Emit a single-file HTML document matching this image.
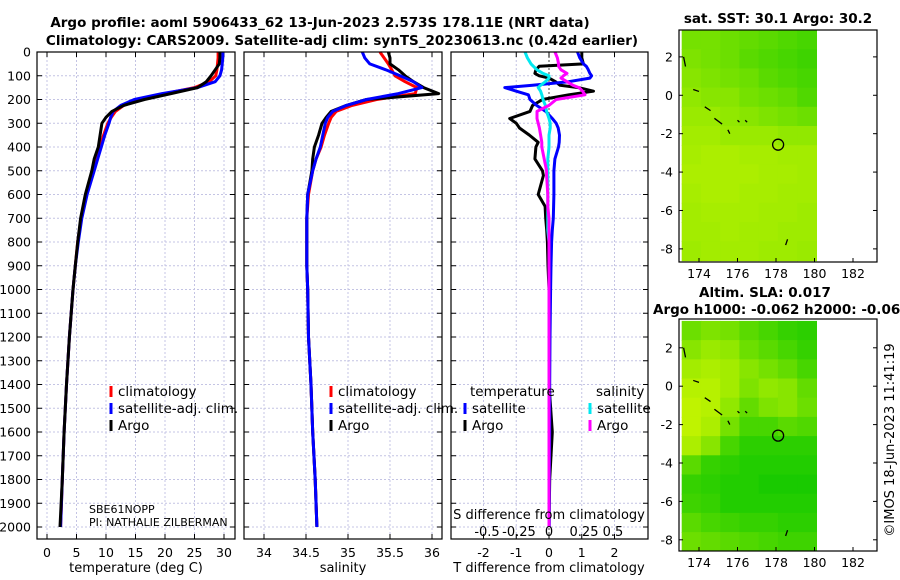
<!DOCTYPE html>
<html><head><meta charset="utf-8">
<style>
html,body{margin:0;padding:0;background:#fff;}
svg{display:block;font-family:"DejaVu Sans","Liberation Sans",sans-serif;}
</style></head>
<body>
<svg id="fig" width="900" height="580" viewBox="0 0 900 580" xmlns="http://www.w3.org/2000/svg">
<defs>
<clipPath id="clipTop"><rect x="679" y="30" width="198" height="232"/></clipPath>
<clipPath id="clipBot"><rect x="679" y="319" width="198" height="232"/></clipPath>
</defs>
<text x="320" y="27" font-size="13.5" font-weight="bold" text-anchor="middle">Argo profile: aoml 5906433_62 13-Jun-2023 2.573S 178.11E (NRT data)</text>
<text x="342" y="45" font-size="13.5" font-weight="bold" text-anchor="middle">Climatology: CARS2009. Satellite-adj clim: synTS_20230613.nc (0.42d earlier)</text>
<text x="778" y="23" font-size="13.5" font-weight="bold" text-anchor="middle">sat. SST: 30.1 Argo: 30.2</text>
<text x="765" y="297" font-size="13.5" font-weight="bold" text-anchor="middle">Altim. SLA: 0.017</text>
<text x="653" y="314" font-size="13.5" font-weight="bold">Argo h1000: -0.062 h2000: -0.064</text>
<text x="0" y="0" font-size="13" text-anchor="middle" transform="translate(894,440) rotate(-90)">©IMOS 18-Jun-2023 11:41:19</text>
<g id="layer"></g>
</svg>
<script>
// ---- profile data ----
const depths = [0,25,50,75,100,125,150,175,200,225,250,275,300,350,400,450,500,600,700,800,900,1000,1200,1400,1600,1800,2000];
const tempClim = [29.0,29.0,28.9,28.8,28.6,27.5,25,20,16,13,11.6,10.9,10.3,9.6,9.0,8.4,7.8,6.6,5.8,5.2,4.8,4.4,3.8,3.3,2.9,2.6,2.3];
const tempSat  = [29.8,29.8,29.7,29.6,29.3,28.5,25.5,19.5,14.8,12.5,11.2,10.8,10.5,9.8,9.2,8.6,8.0,6.8,5.9,5.3,4.8,4.4,3.8,3.3,2.9,2.6,2.3];
const tempArgo = [29.3,29.3,29.2,28.5,27.8,27.0,25.5,21,16.5,13,11,10,9.3,9.0,8.7,8.0,7.6,6.5,5.7,5.2,4.8,4.4,3.8,3.3,2.9,2.6,2.2];
const salClim = [35.38,35.43,35.48,35.52,35.56,35.68,35.82,35.8,35.34,35.05,34.86,34.8,34.77,34.72,34.68,34.62,34.58,34.53,34.51,34.51,34.51,34.52,34.53,34.56,34.58,34.61,34.63];
const salSat  = [35.17,35.2,35.26,35.45,35.62,35.78,35.88,35.6,35.22,34.98,34.82,34.76,34.73,34.7,34.67,34.62,34.58,34.52,34.51,34.51,34.51,34.52,34.53,34.56,34.58,34.61,34.63];
const salArgo = [35.48,35.5,35.5,35.6,35.68,35.78,35.9,36.08,35.22,34.98,34.8,34.74,34.69,34.65,34.6,34.58,34.57,34.52,34.51,34.51,34.51,34.52,34.53,34.56,34.58,34.61,34.63];
const diffDepths = [0,25,50,60,75,90,100,110,125,140,150,165,180,200,225,250,280,300,320,350,380,400,450,500,520,600,650,700,750,800,900,1000,1200,1400,1600,1800,2000];
const tDiffSat  = [0.87,0.94,1.05,1.14,1.2,1.25,1.3,1.25,0.6,-0.5,-1.35,-1.0,-0.63,-0.58,-0.38,-0.1,0.1,0.22,0.28,0.32,0.31,0.29,0.18,0.15,0.15,0.15,0.14,0.13,0.1,0.08,0.06,0.05,0.03,0.02,0.02,0.01,0.01];
const tDiffArgo = [1.0,1.0,1.05,-0.3,-0.4,-0.43,-0.3,0.0,0.2,0.34,0.9,1.36,0.6,-0.2,-0.5,-0.58,-1.2,-1.0,-0.9,-0.6,-0.33,-0.4,-0.43,-0.2,-0.17,-0.33,-0.12,-0.1,-0.07,-0.05,-0.03,0,0,0,0.1,0.02,0];
const sDiffSat  = [-0.2,-0.18,-0.15,-0.13,-0.1,-0.05,0,0.0,-0.03,-0.07,-0.09,-0.07,-0.06,-0.05,-0.03,-0.02,0,0.01,0.01,0,0,0,-0.01,-0.01,-0.01,-0.01,-0.01,-0.01,-0.01,0,0,0,0,0,0,0,0];
const sDiffArgo = [0.05,0.07,0.08,0.08,0.1,0.15,0.12,0.1,0.15,0.2,0.25,0.28,0.3,0.06,0.0,-0.1,-0.1,-0.09,-0.08,-0.07,-0.06,-0.06,-0.04,-0.02,-0.02,-0.01,-0.01,0,0,0,0,0,0,0,0,0,0];
// ---- map data (0 = yellow-green, 1 = green), rows from north to south, 1 deg cells from 173.1E, 3.4N ----
const sstGrid = [
[0.45,0.45,0.5,0.55,0.6,0.65,0.7],
[0.4,0.45,0.5,0.6,0.65,0.7,0.75],
[0.35,0.4,0.45,0.5,0.6,0.65,0.7],
[0.3,0.35,0.35,0.45,0.5,0.55,0.65],
[0.25,0.25,0.3,0.35,0.4,0.45,0.5],
[0.2,0.2,0.25,0.25,0.25,0.3,0.3],
[0.18,0.15,0.15,0.18,0.18,0.2,0.2],
[0.15,0.15,0.15,0.15,0.18,0.18,0.2],
[0.18,0.15,0.15,0.18,0.18,0.2,0.2],
[0.2,0.18,0.18,0.18,0.2,0.2,0.23],
[0.2,0.2,0.18,0.2,0.2,0.23,0.23],
[0.23,0.2,0.2,0.2,0.23,0.23,0.25]];
const slaGrid = [
[0.5,0.4,0.45,0.6,0.7,0.8,0.85],
[0.35,0.25,0.3,0.5,0.6,0.7,0.8],
[0.2,0.15,0.2,0.35,0.45,0.55,0.7],
[0.1,0.1,0.2,0.4,0.3,0.35,0.55],
[0.05,0.1,0.3,0.55,0.4,0.35,0.5],
[0.05,0.15,0.45,0.7,0.7,0.6,0.65],
[0.15,0.35,0.7,0.85,0.85,0.85,0.85],
[0.6,0.8,0.85,0.9,0.9,0.9,0.9],
[0.8,0.85,0.9,0.9,0.95,0.95,0.95],
[0.75,0.8,0.9,0.9,0.9,0.9,0.9],
[0.6,0.7,0.75,0.8,0.8,0.85,0.85],
[0.5,0.55,0.6,0.65,0.7,0.75,0.75]];
const floatLon = 178.11, floatLat = -2.573;
const depthTicks = [0,100,200,300,400,500,600,700,800,900,1000,1100,1200,1300,1400,1500,1600,1700,1800,1900,2000];
const tempTicks = [0,5,10,15,20,25,30];
const salTicks = [34,34.5,35,35.5,36];
const salTickLabels = ["34","34.5","35","35.5","36"];
const tDiffTicks = [-2,-1,0,1,2];
const lonTicks = [174,176,178,180,182];
const latTicks = [2,0,-2,-4,-6,-8];

const NS='http://www.w3.org/2000/svg';
const L=document.getElementById('layer');
function mk(tag,attrs,parent){const e=document.createElementNS(NS,tag);for(const k in attrs)e.setAttribute(k,attrs[k]);(parent||L).appendChild(e);return e;}
const yD = d => 52 + d*0.2375;
const xT = v => 47 + v*5.9;
const xS = v => 264 + (v-34)*84;
const xTD = v => 549 + v*32.75;
const xSD = v => 549 + v*120;
const TOP=52, BOT=539;
const panels=[{x0:37,x1:235,name:'temperature-panel'},{x0:244,x1:442,name:'salinity-panel'},{x0:451,x1:648,name:'difference-panel'}];

function grid(p,xs,dottedZero){
  const g=mk('g',{});
  
  
  depthTicks.forEach(d=>{if(d===0)return;mk('line',{x1:p.x0,x2:p.x1,y1:yD(d),y2:yD(d),stroke:'#c4c4e4','stroke-width':1,'stroke-dasharray':'2,2'},g);
    mk('line',{x1:p.x0,x2:p.x0+5,y1:yD(d),y2:yD(d),stroke:'#000'},g);mk('line',{x1:p.x1-5,x2:p.x1,y1:yD(d),y2:yD(d),stroke:'#000'},g);});
  xs.forEach(x=>{mk('line',{x1:x,x2:x,y1:TOP,y2:BOT,stroke:(dottedZero&&Math.abs(x-549)<1)?'#444':'#c4c4e4','stroke-width':1,'stroke-dasharray':'2,2'},g);
    mk('line',{x1:x,x2:x,y1:BOT-5,y2:BOT,stroke:'#000'},g);mk('line',{x1:x,x2:x,y1:TOP,y2:TOP+5,stroke:'#000'},g);});
}
function frame(p){const r=mk('rect',{x:p.x0,y:TOP,width:p.x1-p.x0,height:BOT-TOP,fill:'none',stroke:'#000','stroke-width':1.2});
  
  }
function line(xs,ds,fx,color,name){
  const pts=xs.map((v,i)=>fx(v).toFixed(1)+','+yD(ds[i]).toFixed(1)).join(' ');
  const e=mk('polyline',{points:pts,fill:'none',stroke:color,'stroke-width':3,'stroke-linejoin':'round'});
  
  
}
function text(x,y,s,opts,name){const t=mk('text',Object.assign({x:x,y:y,'font-size':12.5},opts||{}));t.textContent=s;
  
  return t;}

grid(panels[0],tempTicks.map(xT));
grid(panels[1],salTicks.map(xS));
grid(panels[2],tDiffTicks.map(xTD),true);

line(tempClim,depths,xT,'#ff0000','temp-climatology-line');
line(tempSat,depths,xT,'#0000ff','temp-satellite-line');
line(tempArgo,depths,xT,'#000000','temp-argo-line');
line(salClim,depths,xS,'#ff0000','sal-climatology-line');
line(salArgo,depths,xS,'#000000','sal-argo-line');
line(salSat,depths,xS,'#0000ff','sal-satellite-line');
line(tDiffArgo,diffDepths,xTD,'#000000','tdiff-argo-line');
line(tDiffSat,diffDepths,xTD,'#0000ff','tdiff-satellite-line');
line(sDiffSat,diffDepths,xSD,'#00e8f0','sdiff-satellite-line');
line(sDiffArgo,diffDepths,xSD,'#ff00ff','sdiff-argo-line');
panels.forEach(frame);

depthTicks.forEach(d=>text(31,yD(d)+4.5,String(d),{'text-anchor':'end'},'depth-tick-label'));
tempTicks.forEach(v=>text(xT(v),557,String(v),{'text-anchor':'middle'},'temp-tick-label'));
salTicks.forEach((v,i)=>text(xS(v),557,salTickLabels[i],{'text-anchor':'middle'},'sal-tick-label'));
tDiffTicks.forEach(v=>text(xTD(v),557,String(v),{'text-anchor':'middle'},'tdiff-tick-label'));
text(136,572,'temperature (deg C)',{'text-anchor':'middle','font-size':13},'temp-axis-title');
text(343,572,'salinity',{'text-anchor':'middle','font-size':13},'sal-axis-title');
text(549,572,'T difference from climatology',{'text-anchor':'middle','font-size':13},'tdiff-axis-title');
text(549,519,'S difference from climatology',{'text-anchor':'middle','font-size':13},'sdiff-axis-title');
[['-0.5',487],['-0.25',519],['0',549],['0.25',584],['0.5',613]].forEach(a=>text(a[1],536,a[0],{'text-anchor':'middle','font-size':13},'sdiff-tick-label'));
text(89,513,'SBE61NOPP',{'font-size':11},'sensor-label');
text(89,526,'PI: NATHALIE ZILBERMAN',{'font-size':11},'pi-label');

function legend(x,y,color,label,name){const r=mk('rect',{x:x-1.5,y:y-9,width:3,height:11,fill:color});
  
  
  text(x+7,y+1,label,{'font-size':13.5},name+'-label');}
[[111,'climatology-legend'],[331,'sal-climatology-legend']].forEach(a=>{
  legend(a[0],395,'#ff0000','climatology',a[1]);
  legend(a[0],412,'#0000ff','satellite-adj. clim.',a[1]+'-sat');
  legend(a[0],429,'#000000','Argo',a[1]+'-argo');});
text(470,396,'temperature',{'font-size':13.5},'tdiff-legend-heading');
text(596,396,'salinity',{'font-size':13.5},'sdiff-legend-heading');
legend(465,412,'#0000ff','satellite','tdiff-legend-sat');
legend(465,429,'#000000','Argo','tdiff-legend-argo');
legend(590,412,'#00e8f0','satellite','sdiff-legend-sat');
legend(590,429,'#ff00ff','Argo','sdiff-legend-argo');

// ---- maps ----
function col(v){const a=[200,245,0],b=[16,200,0];return 'rgb('+a.map((c,i)=>Math.round(c+(b[i]-c)*v)).join(',')+')';}
function map(top,latTop,gridV,name,clip){
  const fx=lon=>699+(lon-174)*19.25;
  const fy=lat=>top+(latTop-lat)*19.2;
  const g=mk('g',{});
  
  
  const cg=mk('g',{'clip-path':'url(#'+clip+')'},g);
  gridV.forEach((row,r)=>row.forEach((v,c)=>{
    const lon=173.1+c, lat=3.4-r;
    const x=fx(lon), y=fy(lat);
    const w=Math.min(fx(lon+1),817)-x;
    const rc=mk('rect',{x:x.toFixed(1),y:y.toFixed(1),width:(w+0.5).toFixed(1),height:20,fill:col(v)},cg);
    
    
  }));
  const bottom=top+232;
  mk('rect',{x:679,y:top,width:198,height:232,fill:'none',stroke:'#000','stroke-width':1.2},g);
  lonTicks.forEach(lon=>{mk('line',{x1:fx(lon),x2:fx(lon),y1:bottom,y2:bottom-4,stroke:'#000'},g);
    text(fx(lon),bottom+16,String(lon),{'text-anchor':'middle','font-size':12.5},'map-lon-label');});
  latTicks.forEach(lat=>{mk('line',{x1:679,x2:683,y1:fy(lat),y2:fy(lat),stroke:'#000'},g);mk('line',{x1:873,x2:877,y1:fy(lat),y2:fy(lat),stroke:'#000'},g);
    text(673,fy(lat)+4.5,String(lat),{'text-anchor':'end','font-size':12.5},'map-lat-label');});
  [[173.2,2.0,173.3,1.5],[173.7,0.3,174.0,0.2],[174.3,-0.6,174.6,-0.8],[174.8,-1.2,175.2,-1.5],[175.5,-1.8,175.6,-2.0],[176,-1.3,176.1,-1.4],[176.4,-1.3,176.5,-1.4],[178.6,-7.5,178.5,-7.8]].forEach(s=>{
    const e=mk('line',{x1:fx(s[0]),y1:fy(s[1]),x2:fx(s[2]),y2:fy(s[3]),stroke:'#000','stroke-width':1.3},g);
    
    
  });
  const c=mk('circle',{cx:fx(floatLon),cy:fy(floatLat),r:5.5,fill:'none',stroke:'#000','stroke-width':1.3},g);
  
  
}
map(30,3.4,sstGrid,'sst-map','clipTop');
map(319,3.5,slaGrid,'sla-map','clipBot');
</script>
</body></html>
